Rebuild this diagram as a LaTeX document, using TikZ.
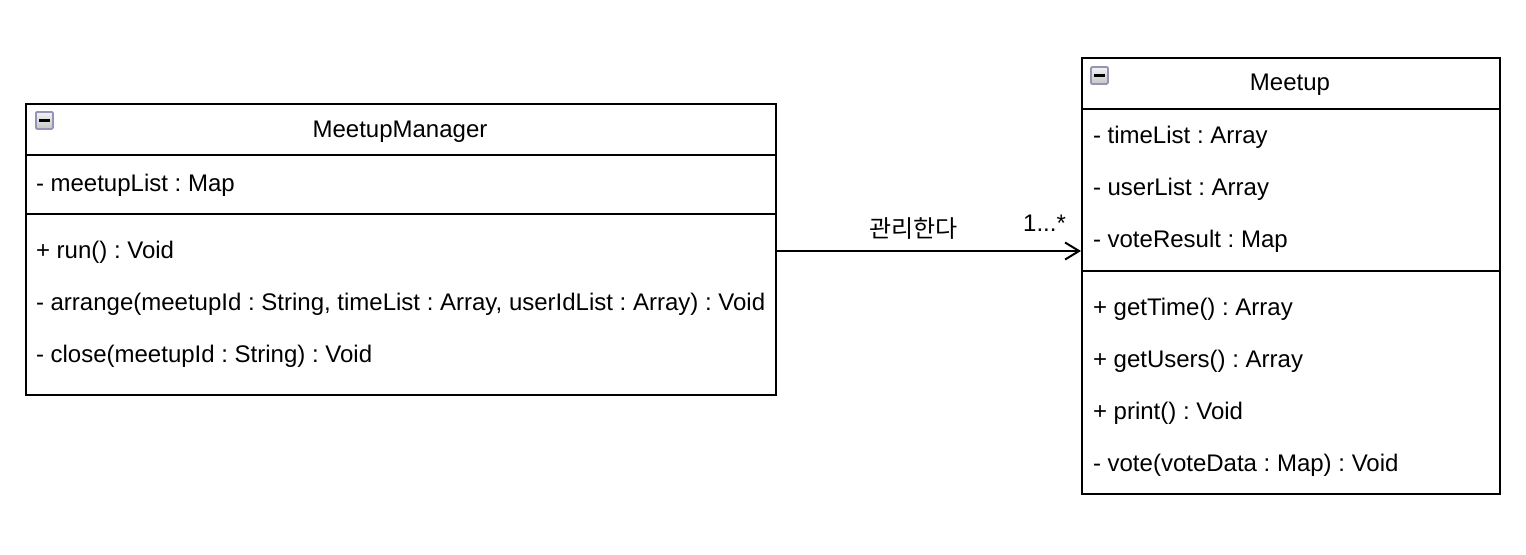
\documentclass[tikz,border=0pt]{standalone}
\usepackage{fontspec}
\setmainfont{Liberation Sans}
\newfontfamily\krfont{Noto Sans CJK KR}
\usetikzlibrary{arrows.meta}
\frenchspacing
\begin{document}
\begin{tikzpicture}[x=0.5pt, y=-0.5pt, line width=1pt,
  every node/.style={font=\fontsize{12pt}{14pt}\selectfont},
  classbox/.style={draw, line width=1pt, anchor=north west, inner sep=0pt},
  row/.style={anchor=west, inner sep=0pt},
  foldicon/.style={draw=gray!80!blue!70, line width=0.9pt, rounded corners=0.6pt, top color=gray!10, bottom color=gray!45, minimum size=8.5pt, inner sep=0pt, anchor=north west}]
\useasboundingbox (0,0) rectangle (1526,554);
% MeetupManager class
\node[classbox, minimum width=375pt, minimum height=145.5pt] (mgr) at (25,103) {};
\node (mgrname) at (400,132) {MeetupManager};
\node[foldicon] (mgricon) at (35,111) {};
\draw[line width=1.3pt] ([xshift=-2.7pt]mgricon.center) -- ([xshift=2.7pt]mgricon.center);
\draw (25,155) -- (775,155);
\node[row] (mgrattr) at (35,185) {- meetupList : Map};
\draw (25,214) -- (775,214);
\node[row] (run) at (35,252) {+ run() : Void};
\node[row] (arrange) at (35,304) {- arrange(meetupId : String, timeList : Array, userIdList : Array) : Void};
\node[row] (close) at (35,356) {- close(meetupId : String) : Void};
% Meetup class
\node[classbox, minimum width=209pt, minimum height=218pt] (meetup) at (1081,57) {};
\node (meetupname) at (1290,85) {Meetup};
\node[foldicon] (meetupicon) at (1090,66) {};
\draw[line width=1.3pt] ([xshift=-2.7pt]meetupicon.center) -- ([xshift=2.7pt]meetupicon.center);
\draw (1081,109) -- (1499,109);
\node[row] (timelist) at (1092,137) {- timeList : Array};
\node[row] (userlist) at (1092,189) {- userList : Array};
\node[row] (voteresult) at (1092,241) {- voteResult : Map};
\draw (1081,271) -- (1499,271);
\node[row] (gettime) at (1092,309) {+ getTime() : Array};
\node[row] (getusers) at (1092,361) {+ getUsers() : Array};
\node[row] (print) at (1092,413) {+ print() : Void};
\node[row] (vote) at (1092,465) {- vote(voteData : Map) : Void};
% association
\draw[-{Straight Barb[length=7pt,width=8.5pt]}] ([yshift=-0.75pt]mgr.east) -- ([yshift=-0.75pt]mgr.east -| meetup.west)
  node[pos=0.45, above=2pt, font=\krfont\fontsize{12pt}{14pt}\selectfont] (assoc) {관리한다}
  node[pos=0.88, above=6pt] (mult) {1...*};
\end{tikzpicture}
\end{document}
